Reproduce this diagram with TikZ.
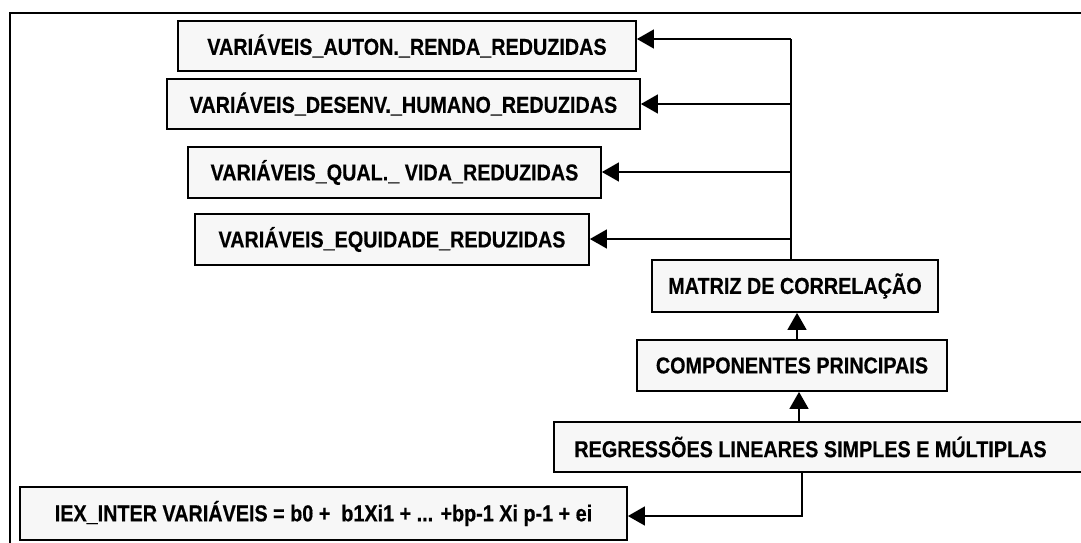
\documentclass[tikz,border=0pt]{standalone}
\usepackage{fontspec}
\setmainfont[FakeStretch=0.86,BoldFeatures={FakeBold=0.4}]{Liberation Sans}
\usetikzlibrary{arrows.meta}
\definecolor{boxfill}{HTML}{F7F7F7}
\begin{document}
\begin{tikzpicture}[x=1pt,y=-1pt,
  box/.style={draw=black, line width=1.8pt, fill=boxfill, inner sep=0pt,
    font=\fontsize{23pt}{27pt}\selectfont\bfseries},
  conn/.style={line width=1.5pt},
  arr/.style={conn, -{Triangle[length=17pt,width=19pt]}},
  frame/.style={line width=2.5pt}]
\useasboundingbox (0,0) rectangle (1081,543);
% outer frame (only top and left edges lie inside the picture)
\draw[frame] (10,560) -- (10,13) -- (1100,13);
% boxes
\node[box, minimum width=458pt, minimum height=50pt] (a) at (407,46) {VARIÁVEIS\_AUTON.\_RENDA\_REDUZIDAS};
\node[box, minimum width=473pt, minimum height=50pt] (b) at (403.5,104) {VARIÁVEIS\_DESENV.\_HUMANO\_REDUZIDAS};
\node[box, minimum width=413pt, minimum height=51pt] (c) at (394.5,172.5) {VARIÁVEIS\_QUAL.\_ VIDA\_REDUZIDAS};
\node[box, minimum width=394pt, minimum height=51pt] (d) at (392,239.5) {VARIÁVEIS\_EQUIDADE\_REDUZIDAS};
\node[box, minimum width=286pt, minimum height=52pt] (matriz) at (795,286) {MATRIZ DE CORRELAÇÃO};
\node[box, minimum width=310pt, minimum height=51pt] (comp) at (792,365.5) {COMPONENTES PRINCIPAIS};
\node[box, minimum width=541pt, minimum height=50pt] (reg) at (824.5,447) {\hspace*{-28pt}REGRESSÕES LINEARES SIMPLES E MÚLTIPLAS};
\node[box, minimum width=607pt, minimum height=53pt] (iex) at (323.5,513.5) {IEX\_INTER VARIÁVEIS = b0 +~ b1Xi1 + ... +bp-1 Xi p-1 + ei};
% trunk from the correlation matrix to the reduced variable sets
\coordinate (ja) at (791,39);
\coordinate (jb) at (791,104);
\coordinate (jc) at (791,172);
\coordinate (jd) at (791,239);
\draw[conn] (matriz.north -| ja) -- (ja);
\draw[arr] (ja) -- (ja -| a.east);
\draw[arr] (jb) -- (jb -| b.east);
\draw[arr] (jc) -- (jc -| c.east);
\draw[arr] (jd) -- (jd -| d.east);
% vertical chain
\coordinate (m1) at (797,0);
\coordinate (m2) at (799,0);
\draw[arr] (comp.north -| m1) -- (matriz.south -| m1);
\draw[arr] (reg.north -| m2) -- (comp.south -| m2);
% regressions to the equation
\coordinate (r1) at (802,516);
\draw[arr] (reg.south -| r1) -- (r1) -- (r1 -| iex.east);
\end{tikzpicture}
\end{document}
